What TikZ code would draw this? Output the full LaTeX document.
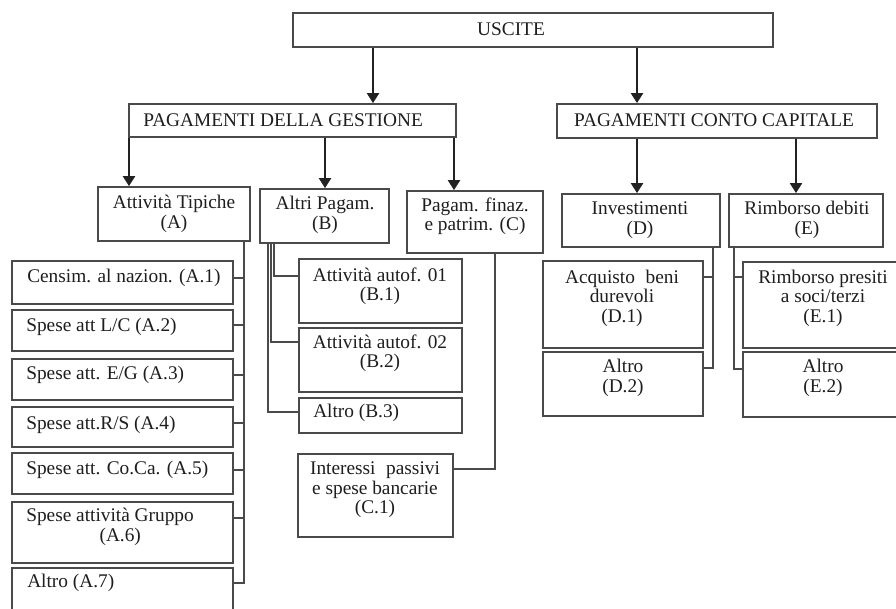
\documentclass[tikz,border=0pt]{standalone}
\usepackage{fontspec}
\setmainfont{Liberation Serif}
\usetikzlibrary{arrows.meta,fit}
\definecolor{boxgray}{HTML}{4A4A4A}
\definecolor{linegray}{HTML}{222222}
\definecolor{inkgray}{HTML}{1E1E1E}
\begin{document}
\begin{tikzpicture}[x=0.75pt,y=-0.75pt,
  box/.style={draw=boxgray, line width=1.3pt, inner sep=0pt, fill=white},
  txt/.style={inner sep=0pt, text=inkgray, font=\fontsize{14.5}{14.6}\selectfont, align=center},
  ltxt/.style={txt, anchor=west, align=left},
  arr/.style={draw=linegray, line width=1.6pt, -{Triangle[width=9pt,length=7.5pt]}},
  conn/.style={draw=boxgray, line width=1.2pt},
  spine/.style={draw=boxgray, line width=1.7pt}]
\useasboundingbox (0,0) rectangle (896,609);
\clip (0,0) rectangle (896,609);

% ---- boxes ----
\node[box, fit={(293,13) (773,47)}]   (u)  {};
\node[box, fit={(129,104) (456,137)}] (pg) {};
\node[box, fit={(557,104) (877,138)}] (pc) {};
\node[box, fit={(98,187) (250,241)}]  (a)  {};
\node[box, fit={(260,189) (389,243)}] (b)  {};
\node[box, fit={(407,191) (543,253)}] (c)  {};
\node[box, fit={(562,194) (720,247)}] (d)  {};
\node[box, fit={(729,194) (883,247)}] (e)  {};
\node[box, fit={(12,261) (233,304)}]  (a1) {};
\node[box, fit={(12,310) (233,351)}]  (a2) {};
\node[box, fit={(12,359) (233,400)}]  (a3) {};
\node[box, fit={(12,407) (233,447)}]  (a4) {};
\node[box, fit={(12,453) (233,494)}]  (a5) {};
\node[box, fit={(12,502) (233,563)}]  (a6) {};
\node[box, fit={(12,568) (233,625)}]  (a7) {};
\node[box, fit={(299,259) (462,323)}] (b1) {};
\node[box, fit={(299,328) (462,392)}] (b2) {};
\node[box, fit={(299,398) (462,433)}] (b3) {};
\node[box, fit={(298,454) (453,537)}] (c1) {};
\node[box, fit={(543,261) (703,348)}] (d1) {};
\node[box, fit={(543,352) (703,416)}] (d2) {};
\node[box, fit={(743,262) (905,348)}] (e1) {};
\node[box, fit={(743,352) (905,417)}] (e2) {};

% ---- labels ----
\node[txt] (tu) at (511,29) {USCITE};
\node[ltxt] (tpg) at (143,120) {PAGAMENTI DELLA GESTIONE};
\node[txt] (tpc) at (714,120) {PAGAMENTI CONTO CAPITALE};
\node[txt] (ta) at (174,214) {Attività Tipiche\\(A)};
\node[txt] (tb) at (325,215) {Altri Pagam.\\(B)};
\node[txt] (tc) at (475,216) {Pagam. finaz.\\e patrim. (C)};
\node[txt] (td) at (640,220) {Investimenti\\(D)};
\node[txt] (te) at (807,220) {Rimborso debiti\\(E)};
\node[ltxt] (ta1) at (27,278) {Censim. al nazion. (A.1)};
\node[ltxt] (ta2) at (26,327) {Spese att L/C (A.2)};
\node[ltxt] (ta3) at (26,375) {Spese att. E/G (A.3)};
\node[ltxt] (ta4) at (26,425) {Spese att.R/S (A.4)};
\node[ltxt] (ta5) at (26,470) {Spese att. Co.Ca. (A.5)};
\node[ltxt] (ta6) at (26,527) {Spese attività Gruppo\\\hspace*{55pt}(A.6)};
\node[ltxt] (ta7) at (27,583) {Altro (A.7)};
\node[txt] (tb1) at (380,286) {Attività autof. 01\\(B.1)};
\node[txt] (tb2) at (380,353) {Attività autof. 02\\(B.2)};
\node[ltxt] (tb3) at (313,413) {Altro (B.3)};
\node[txt] (tc1) at (375,490) {Interessi\hspace{0.3em} passivi\\e spese bancarie\\(C.1)};
\node[txt] (td1) at (622,298) {Acquisto\hspace{0.3em} beni\\durevoli\\(D.1)};
\node[txt] (td2) at (623,378) {Altro\\(D.2)};
\node[txt] (te1) at (823,298) {Rimborso presiti\\a soci/terzi\\(E.1)};
\node[txt] (te2) at (823,378) {Altro\\(E.2)};

% ---- arrows ----
\draw[arr] (u.south -| 373,0) -- (pg.north -| 373,0);
\draw[arr] (u.south -| 637,0) -- (pc.north -| 637,0);
\draw[arr] (pg.south -| 129,0) -- (a.north -| 129,0);
\draw[arr] (pg.south -| 325,0) -- (b.north -| 325,0);
\draw[arr] (pg.south -| 454,0) -- (c.north -| 454,0);
\draw[arr] (pc.south -| 637,0) -- (d.north -| 637,0);
\draw[arr] (pc.south -| 796,0) -- (e.north -| 796,0);

% ---- branch lines: A ----
\coordinate (as) at (244,241);
\draw[spine] (a.south -| as) |- (a7.east |- 0,583);
\foreach \n/\yy in {a1/278, a2/325, a3/375, a4/423, a5/470, a6/518}
  \draw[conn] (\n.east |- 0,\yy) -- (as |- 0,\yy);

% ---- branch lines: B ----
\draw[conn] (b.south -| 268,0) |- (b3.west |- 0,412);
\draw[conn] (b.south -| 271,0) |- (b2.west |- 0,342);
\draw[conn] (b.south -| 274,0) |- (b1.west |- 0,276);

% ---- branch lines: C ----
\draw[conn] (c.south -| 495,0) |- (c1.east |- 0,469);

% ---- branch lines: D ----
\coordinate (ds) at (713,247);
\draw[conn] (d.south -| ds) |- (d2.east |- 0,368);
\draw[conn] (d1.east |- 0,277) -- (ds |- 0,277);

% ---- branch lines: E ----
\coordinate (es) at (734,247);
\draw[conn] (e.south -| es) |- (e2.west |- 0,369);
\draw[conn] (es |- 0,277) -- (e1.west |- 0,277);
\end{tikzpicture}
\end{document}
